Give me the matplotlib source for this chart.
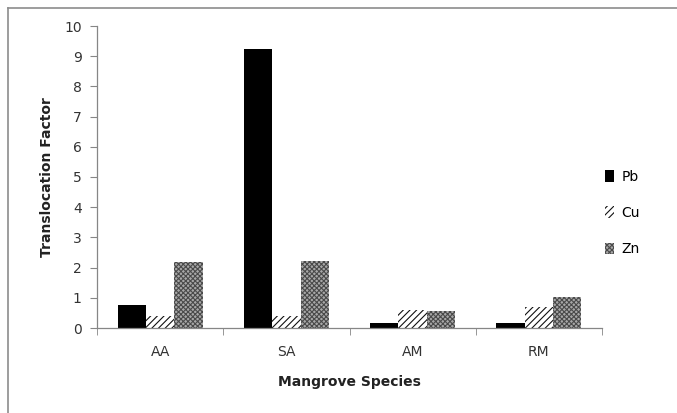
import matplotlib
matplotlib.use("Agg")
import matplotlib.pyplot as plt
from matplotlib.lines import Line2D
import numpy as np

categories = ["AA", "SA", "AM", "RM"]
pb = [0.76, 9.25, 0.15, 0.15]
cu = [0.40, 0.40, 0.60, 0.70]
zn = [2.20, 2.22, 0.55, 1.02]
series_names = ["Pb", "Cu", "Zn"]

plt.rcParams['font.family'] = ['DejaVu Sans']
plt.rcParams['hatch.linewidth'] = 0.8

W, H = 677, 413
fig = plt.figure(figsize=(W/100, H/100), dpi=100)
ax = fig.add_axes([97/W, 1-328/H, (602-97)/W, (328-26)/H])

x = np.arange(len(categories))
bw = 0.225
ax.bar(x - bw, pb, bw, color='black', edgecolor='black', linewidth=0, label=series_names[0])
ax.bar(x, cu, bw, color='white', edgecolor='#111111', hatch='/////', linewidth=0, label=series_names[1])
ax.bar(x + bw, zn, bw, color='#a8a8a8', edgecolor='#4a4a4a', hatch='xxxxxxx', linewidth=0, label=series_names[2])

ax.set_xlim(-0.5, len(categories) - 0.5)
ax.set_ylim(0, 10)
ax.set_yticks(range(0, 11))
ax.set_xticks(x)
ax.set_xticklabels(categories)
ax.set_xticks(np.arange(-0.5, len(categories), 1), minor=True)
ax.tick_params(axis='x', which='major', length=0, pad=12, labelsize=10, colors='#333333')
ax.tick_params(axis='x', which='minor', length=5, color='#868686', direction='out')
ax.tick_params(axis='y', length=5, color='#868686', direction='out', labelsize=10, labelcolor='#333333', pad=6)
for s in ['top', 'right']:
    ax.spines[s].set_visible(False)
for s in ['left', 'bottom']:
    ax.spines[s].set_color('#868686')
    ax.spines[s].set_linewidth(0.9)

ax.set_xlabel("Mangrove Species", fontsize=10, fontweight='bold', labelpad=12, color='#222222')
ax.set_ylabel("Translocation Factor", fontsize=10, fontweight='bold', labelpad=7, color='#222222')

leg = fig.legend(loc='center left', bbox_to_anchor=(592/W, 1-213/H), frameon=False,
                 fontsize=10, labelspacing=1.6, handlelength=0.7, handleheight=0.9,
                 handletextpad=0.5)

# figure border: only top and left edges visible
fig.add_artist(Line2D([7.5/W, 1.0], [1-8/H, 1-8/H], transform=fig.transFigure, color='#8c8c8c', linewidth=1.2))
fig.add_artist(Line2D([7.5/W, 7.5/W], [0.0, 1-8/H], transform=fig.transFigure, color='#8c8c8c', linewidth=1.2))

fig.savefig("out.png", dpi=100)
